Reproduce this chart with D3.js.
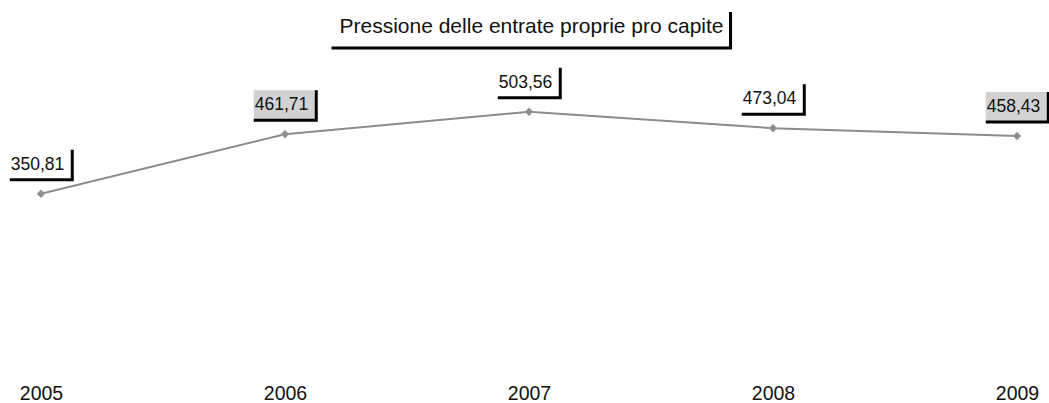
<!DOCTYPE html>
<html><head><meta charset="utf-8">
<script src="https://cdn.jsdelivr.net/npm/d3@7"></script>
<style>body{margin:0;background:#fff}svg{display:block}text{font-family:"Liberation Sans",Arial,sans-serif}</style>
</head><body>
<svg id="c" width="1049" height="403"></svg>
<script>
const title = "Pressione delle entrate proprie pro capite";
const years = ["2005","2006","2007","2008","2009"];
const values = [350.81, 461.71, 503.56, 473.04, 458.43];
const labels = ["350,81","461,71","503,56","473,04","458,43"];
const shaded = [false, true, false, false, true];

const svg = d3.select("#c");
const x = d3.scalePoint().domain(years).range([41, 1017]);
const y = d3.scaleLinear().domain([0, 600]).range([382, 60]);

// axis
const ax = svg.append("g").attr("transform","translate(0,382)")
  .call(d3.axisBottom(x).tickSize(0).tickPadding(4));
ax.select(".domain").remove();
ax.selectAll("text").attr("font-size",19.5).attr("fill","#111")
  .style("font-family",'"Liberation Sans",Arial,sans-serif');

// line
const line = d3.line().x((d,i)=>x(years[i])).y(d=>y(d));
svg.append("path").datum(values).attr("d",line)
  .attr("fill","none").attr("stroke","#8c8c8c").attr("stroke-width",2);
svg.selectAll(".mk").data(values).enter().append("path")
  .attr("transform",(d,i)=>`translate(${x(years[i])},${y(d)}) rotate(45)`)
  .attr("d",d3.symbol().type(d3.symbolSquare).size(32))
  .attr("fill","#8e8e8e").attr("stroke","#aaa").attr("stroke-width",0.8);

// label boxes: box centred on cx, shadow on right and bottom
function boxed(g, cx, baseline, txt, size, fill, padL, padR, top, bot){
  const t = g.append("text").attr("y",baseline).attr("font-size",size).attr("fill","#111").text(txt);
  const w = t.node().getComputedTextLength();
  const bw = w + padL + padR;
  const x0 = cx - bw/2, x1 = cx + bw/2;
  t.attr("x", x0 + padL);
  const y0 = baseline - top, y1 = baseline + bot;
  g.insert("rect","text").attr("x",x0).attr("y",y0).attr("width",x1-x0).attr("height",y1-y0).attr("fill",fill);
  g.append("path").attr("d",`M${x0},${y1}H${x1}V${y0}`).attr("fill","none")
    .attr("stroke","#000").attr("stroke-width",3);
}
const lg = svg.append("g");
values.forEach((v,i)=>{
  boxed(lg.append("g"), x(years[i]), y(v)-24, labels[i], 17.5, shaded[i]?"#d2d2d2":"#fff", 1, 8, 20, 10);
});
// title
boxed(svg.append("g"), 531, 33, title, 21, "#fff", 8, 7, 21, 15);
</script>
</body></html>
